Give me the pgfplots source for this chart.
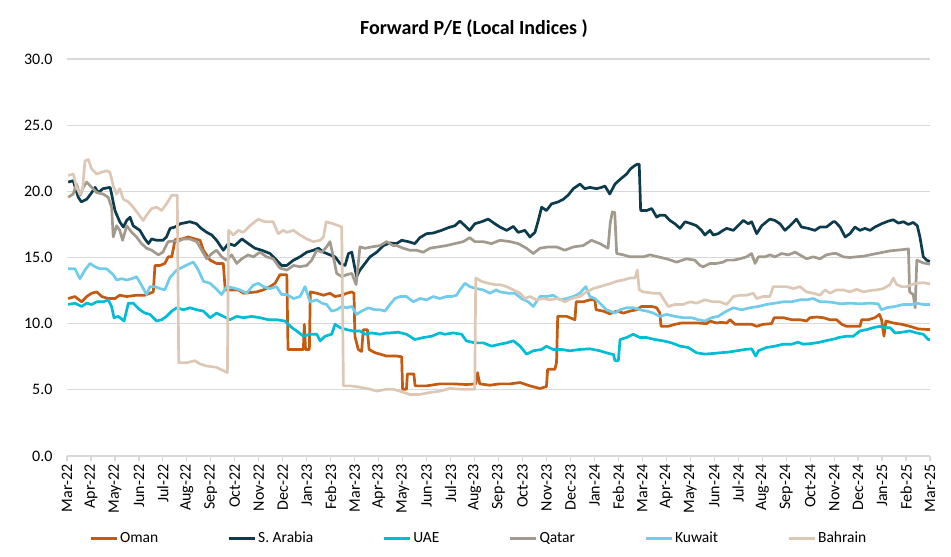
\documentclass[border=0pt]{standalone}
\usepackage{pgfplots}
\pgfplotsset{compat=1.18}
\usepackage{fontspec}
\setmainfont{Carlito}
\definecolor{cOman}{HTML}{C55A11}
\definecolor{cKSA}{HTML}{0B3B4C}
\definecolor{cUAE}{HTML}{00BCD4}
\definecolor{cQatar}{HTML}{A39A8E}
\definecolor{cKuwait}{HTML}{70CCEA}
\definecolor{cBahrain}{HTML}{DDC8B6}
\definecolor{cGrid}{HTML}{D9D9D9}
\begin{document}
\begin{tikzpicture}[x=1pt,y=1pt]
\path[use as bounding box] (0,0) rectangle (951,557);
\node[font=\bfseries\fontsize{20}{23}\selectfont] at (474pt,528pt) {Forward P/E (Local Indices )};
\begin{axis}[
  at={(67pt,101pt)}, anchor=south west,
  scale only axis, width=863pt, height=397pt,
  xmin=0, xmax=36, ymin=0, ymax=30,
  ytick={0,5,...,30},
  xtick={0,...,36},
  xticklabels={Mar-22,Apr-22,May-22,Jun-22,Jul-22,Aug-22,Sep-22,Oct-22,Nov-22,Dec-22,Jan-23,Feb-23,Mar-23,Apr-23,May-23,Jun-23,Jul-23,Aug-23,Sep-23,Oct-23,Nov-23,Dec-23,Jan-24,Feb-24,Mar-24,Apr-24,May-24,Jun-24,Jul-24,Aug-24,Sep-24,Oct-24,Nov-24,Dec-24,Jan-25,Feb-25,Mar-25},
  xticklabel style={rotate=90, anchor=east, font=\fontsize{16}{18}\selectfont},
  yticklabel style={font=\fontsize{16}{18}\selectfont, xshift=-11pt},
  /pgf/number format/assume math mode=true,
  yticklabel={\pgfmathprintnumber[fixed,fixed zerofill,precision=1]{\tick}},
  axis x line*=bottom, axis y line*=left,
  x axis line style={draw=cGrid, line width=1.2pt},
  y axis line style={draw=none},
  xtick align=outside, major tick length=5pt,
  xtick style={draw=cGrid, line width=1.2pt},
  ytick style={draw=none},
  ymajorgrids, grid style={draw=cGrid, line width=1.2pt},
  every axis plot/.append style={line width=2.7pt, line join=round, mark=none},
  legend columns=6,
  legend style={at={(0.477,-0.207)}, anchor=center, draw=none, fill=none,
    font=\fontsize{15.5}{18}\selectfont,
    /tikz/every even column/.append style={column sep=67pt},
    /tikz/every odd column/.append style={column sep=0pt}},
  legend image code/.code={\draw[#1, line width=3pt] (0pt,0pt) -- (26pt,0pt);},
]
\addplot[cOman] coordinates {(0.05,11.9)(0.33,12.05)(0.61,11.65)(0.82,12.05)(1.03,12.3)(1.24,12.4)(1.45,12.05)(1.72,11.9)(2.0,11.9)(2.2,12.15)(2.49,12.05)(2.9,12.15)(3.25,12.15)(3.46,12.3)(3.6,12.4)(3.67,14.4)(3.88,14.4)(4.08,14.55)(4.22,15.05)(4.37,15.05)(4.51,16.35)(4.79,16.4)(5.06,16.55)(5.34,16.4)(5.55,16.3)(5.69,15.55)(5.97,14.8)(6.24,14.55)(6.52,14.55)(6.6,12.55)(6.87,12.55)(7.15,12.55)(7.36,12.3)(7.63,12.35)(7.91,12.4)(8.19,12.55)(8.47,12.8)(8.68,13.05)(8.88,13.7)(9.17,13.7)(9.22,8.05)(9.51,8.05)(9.86,8.05)(9.9,9.95)(9.95,8.05)(10.11,8.05)(10.15,12.4)(10.42,12.3)(10.7,12.15)(10.97,12.3)(11.18,12.05)(11.46,12.15)(11.67,12.3)(11.88,12.4)(11.97,12.3)(12.01,9.05)(12.15,8.05)(12.29,7.9)(12.36,9.55)(12.53,9.55)(12.6,8.05)(12.85,7.8)(13.06,7.7)(13.33,7.55)(13.75,7.55)(13.96,7.5)(14.0,5.05)(14.16,5.05)(14.2,6.2)(14.47,6.2)(14.52,5.3)(15.0,5.3)(15.55,5.45)(16.11,5.45)(16.66,5.4)(17.05,5.45)(17.12,6.3)(17.22,5.45)(17.64,5.35)(18.05,5.45)(18.48,5.45)(18.9,5.55)(19.31,5.3)(19.73,5.1)(20.0,5.25)(20.05,6.55)(20.35,6.55)(20.42,7.05)(20.47,10.55)(20.84,10.55)(21.19,10.3)(21.24,11.65)(21.53,11.65)(21.81,11.8)(22.02,11.8)(22.07,11.05)(22.37,10.95)(22.64,10.75)(22.93,10.95)(23.21,10.8)(23.48,10.95)(23.76,11.05)(23.97,11.3)(24.18,11.3)(24.39,11.3)(24.6,11.2)(24.73,10.8)(24.78,9.8)(25.08,9.8)(25.36,9.95)(25.64,10.05)(25.98,10.05)(26.33,10.05)(26.68,10.0)(26.82,10.2)(27.09,10.05)(27.3,10.1)(27.52,10.05)(27.66,10.3)(27.87,9.95)(28.21,9.95)(28.56,9.95)(28.77,9.8)(29.04,9.95)(29.39,10.0)(29.5,10.45)(29.88,10.45)(30.23,10.3)(30.57,10.3)(30.85,10.2)(30.99,10.45)(31.27,10.5)(31.55,10.45)(31.82,10.3)(32.1,10.3)(32.32,9.95)(32.52,9.8)(32.8,9.8)(33.08,9.8)(33.15,10.3)(33.43,10.3)(33.7,10.45)(33.89,10.7)(33.98,10.3)(34.08,9.05)(34.16,10.2)(34.47,10.05)(34.82,9.95)(35.16,9.8)(35.51,9.6)(36.0,9.55)};
\addlegendentry{Oman}
\addplot[cKSA] coordinates {(0.05,20.7)(0.26,20.8)(0.47,19.55)(0.6,19.2)(0.82,19.4)(1.03,19.9)(1.17,20.3)(1.3,19.9)(1.5,20.2)(1.8,20.3)(1.86,19.8)(2.0,18.55)(2.2,17.7)(2.35,17.3)(2.49,17.8)(2.63,18.05)(2.76,17.4)(3.04,17.05)(3.25,16.4)(3.4,16.05)(3.53,16.4)(3.74,16.3)(4.0,16.3)(4.15,16.55)(4.3,17.2)(4.5,17.3)(4.72,17.55)(5.13,17.7)(5.4,17.55)(5.6,17.2)(5.83,16.9)(6.04,16.7)(6.24,16.3)(6.52,15.55)(6.73,16.05)(7.0,15.9)(7.3,16.4)(7.56,16.05)(7.84,15.7)(8.12,15.55)(8.47,15.3)(8.74,14.8)(8.95,14.4)(9.17,14.4)(9.45,14.8)(9.72,15.05)(10.0,15.4)(10.28,15.55)(10.49,15.7)(10.7,15.4)(10.97,15.2)(11.18,15.05)(11.39,14.55)(11.6,14.4)(11.74,15.3)(11.88,15.4)(11.97,14.55)(12.08,13.55)(12.22,14.05)(12.43,14.55)(12.64,15.05)(12.92,15.4)(13.2,15.9)(13.47,16.1)(13.75,16.05)(13.96,16.3)(14.23,16.2)(14.51,16.05)(14.72,16.5)(15.0,16.8)(15.28,16.85)(15.62,17.05)(15.9,17.25)(16.18,17.4)(16.39,17.75)(16.6,17.4)(16.8,17.05)(17.01,17.55)(17.29,17.7)(17.57,17.9)(17.85,17.55)(18.06,17.3)(18.34,17.05)(18.62,17.35)(18.82,16.9)(19.1,17.05)(19.31,16.55)(19.52,16.9)(19.66,17.8)(19.8,18.8)(20.0,18.55)(20.21,19.05)(20.49,19.2)(20.7,19.4)(20.9,19.7)(21.12,20.2)(21.4,20.55)(21.6,20.2)(21.81,20.3)(22.09,20.2)(22.3,20.3)(22.44,20.4)(22.64,19.8)(22.86,20.55)(23.07,20.9)(23.34,21.3)(23.51,21.7)(23.65,21.9)(23.79,22.05)(23.87,22.05)(23.93,18.55)(24.18,18.55)(24.39,18.7)(24.6,18.05)(24.73,18.2)(24.94,18.2)(25.15,17.8)(25.36,17.55)(25.57,17.2)(25.78,17.7)(26.05,17.55)(26.26,17.4)(26.47,17.05)(26.61,16.7)(26.82,17.05)(26.96,16.7)(27.16,16.8)(27.37,17.05)(27.52,17.2)(27.8,17.05)(28.07,17.55)(28.21,17.8)(28.42,17.55)(28.56,17.7)(28.77,16.8)(28.98,17.4)(29.18,17.7)(29.32,17.9)(29.53,17.8)(29.74,17.55)(29.95,17.05)(30.16,17.4)(30.43,17.9)(30.64,17.3)(30.92,17.2)(31.2,17.05)(31.41,17.3)(31.68,17.3)(31.96,17.7)(32.04,17.7)(32.25,17.3)(32.46,16.55)(32.66,16.8)(32.87,17.3)(33.08,17.05)(33.29,17.2)(33.5,17.05)(33.7,17.3)(33.98,17.55)(34.26,17.75)(34.47,17.85)(34.68,17.6)(34.89,17.7)(35.1,17.5)(35.3,17.65)(35.47,17.4)(35.58,16.55)(35.72,15.05)(35.86,14.8)(36.0,14.7)};
\addlegendentry{S. Arabia}
\addplot[cUAE] coordinates {(0.05,11.45)(0.33,11.55)(0.61,11.3)(0.82,11.55)(1.03,11.45)(1.24,11.65)(1.52,11.65)(1.72,11.8)(1.86,11.3)(1.96,10.45)(2.14,10.55)(2.38,10.2)(2.56,11.55)(2.76,11.55)(3.04,11.05)(3.25,10.8)(3.46,10.7)(3.74,10.2)(3.95,10.3)(4.15,10.55)(4.37,10.95)(4.58,11.2)(4.86,11.05)(5.13,11.2)(5.41,11.05)(5.69,10.95)(5.97,10.45)(6.24,10.8)(6.52,10.55)(6.8,10.3)(7.08,10.55)(7.36,10.45)(7.7,10.55)(8.05,10.45)(8.4,10.3)(8.74,10.3)(9.09,10.2)(9.38,9.7)(9.58,9.45)(9.86,9.05)(10.14,9.2)(10.42,9.2)(10.56,8.7)(10.76,9.05)(11.04,9.2)(11.18,9.95)(11.39,9.7)(11.67,9.55)(11.94,9.45)(12.22,9.45)(12.43,9.2)(12.71,9.3)(13.06,9.2)(13.33,9.3)(13.47,9.3)(13.82,9.35)(14.16,9.2)(14.51,8.8)(14.86,8.95)(15.21,9.05)(15.55,9.3)(15.76,9.2)(16.11,9.3)(16.46,9.2)(16.66,8.7)(17.01,8.55)(17.36,8.55)(17.71,8.3)(18.06,8.45)(18.34,8.55)(18.62,8.7)(18.9,8.3)(19.17,7.7)(19.45,7.95)(19.8,8.05)(20.0,8.3)(20.28,8.05)(20.63,8.05)(20.98,7.95)(21.39,8.05)(21.81,8.1)(22.23,7.95)(22.5,7.8)(22.71,7.7)(22.79,7.7)(22.86,7.2)(23.0,7.2)(23.07,8.8)(23.34,8.95)(23.62,9.2)(23.9,8.95)(24.18,8.95)(24.53,8.8)(24.87,8.7)(25.22,8.55)(25.57,8.3)(25.91,8.2)(26.26,7.8)(26.61,7.7)(26.96,7.75)(27.24,7.8)(27.59,7.85)(27.94,7.95)(28.28,8.05)(28.56,8.1)(28.73,7.55)(28.84,7.95)(29.18,8.2)(29.53,8.3)(29.88,8.45)(30.23,8.45)(30.5,8.6)(30.71,8.45)(31.06,8.5)(31.41,8.6)(31.75,8.75)(32.03,8.85)(32.18,8.95)(32.52,9.05)(32.8,9.05)(33.08,9.45)(33.36,9.55)(33.64,9.7)(33.91,9.8)(34.12,9.7)(34.33,9.7)(34.54,9.3)(34.82,9.35)(35.16,9.45)(35.44,9.3)(35.72,9.2)(35.93,8.8)(36.0,8.8)};
\addlegendentry{UAE}
\addplot[cQatar] coordinates {(0.05,19.55)(0.26,19.8)(0.4,20.55)(0.54,19.7)(0.68,20.3)(0.82,20.7)(1.03,20.3)(1.24,19.9)(1.5,19.8)(1.72,19.55)(1.86,18.8)(1.93,16.55)(2.07,17.4)(2.2,17.05)(2.32,16.3)(2.49,17.4)(2.7,16.9)(2.9,16.55)(3.11,16.05)(3.32,15.7)(3.53,15.55)(3.81,15.2)(4.0,15.4)(4.22,16.2)(4.5,16.25)(4.58,16.2)(4.86,16.4)(5.13,16.4)(5.41,16.2)(5.62,15.55)(5.83,14.9)(6.04,15.3)(6.24,15.55)(6.45,15.05)(6.66,14.8)(6.87,15.2)(7.08,14.55)(7.29,14.9)(7.56,15.2)(7.77,15.05)(8.05,15.4)(8.33,15.05)(8.6,14.9)(8.88,14.2)(9.17,14.05)(9.45,14.4)(9.72,14.3)(10.0,14.4)(10.21,14.8)(10.42,15.55)(10.63,15.4)(10.83,15.8)(10.97,16.2)(11.11,15.05)(11.25,13.8)(11.46,13.55)(11.67,13.7)(11.88,13.8)(12.06,12.95)(12.15,14.55)(12.22,15.8)(12.43,15.7)(12.71,15.8)(13.06,15.9)(13.33,16.2)(13.61,15.9)(13.75,15.9)(14.03,15.7)(14.3,15.55)(14.58,15.55)(14.86,15.4)(15.14,15.7)(15.48,15.8)(15.83,15.9)(16.18,16.05)(16.53,16.2)(16.8,16.5)(17.01,16.2)(17.36,16.2)(17.71,16.05)(18.06,16.3)(18.48,16.2)(18.82,16.05)(19.17,15.7)(19.45,15.3)(19.73,15.7)(20.07,15.8)(20.42,15.8)(20.77,15.55)(21.12,15.8)(21.53,15.9)(21.88,16.3)(22.23,16.05)(22.57,15.7)(22.66,17.6)(22.75,18.45)(22.85,18.4)(22.93,15.3)(23.21,15.2)(23.48,15.05)(23.76,15.05)(24.04,15.05)(24.32,15.2)(24.66,15.05)(25.01,14.9)(25.43,14.65)(25.84,14.9)(26.19,14.8)(26.4,14.4)(26.54,14.3)(26.82,14.55)(27.09,14.55)(27.37,14.65)(27.52,14.8)(27.8,14.8)(28.07,14.9)(28.35,15.05)(28.56,15.3)(28.7,14.55)(28.84,15.05)(29.12,15.05)(29.32,15.2)(29.53,15.05)(29.81,15.3)(30.09,15.2)(30.37,15.4)(30.57,15.2)(30.85,14.9)(31.13,15.05)(31.41,14.9)(31.68,15.2)(31.96,15.3)(32.1,15.3)(32.38,15.05)(32.66,15.0)(32.94,15.05)(33.22,15.1)(33.5,15.2)(33.77,15.3)(34.05,15.4)(34.33,15.5)(34.61,15.55)(34.89,15.6)(35.1,15.65)(35.15,12.4)(35.3,12.2)(35.38,11.2)(35.45,14.8)(35.7,14.6)(36.0,14.5)};
\addlegendentry{Qatar}
\addplot[cKuwait] coordinates {(0.05,14.15)(0.33,14.15)(0.54,13.4)(0.75,14.05)(0.96,14.55)(1.17,14.3)(1.38,14.15)(1.65,14.15)(1.93,13.7)(2.07,13.3)(2.28,13.4)(2.49,13.3)(2.7,13.4)(2.9,13.55)(3.11,12.9)(3.32,12.2)(3.46,12.8)(3.67,12.8)(3.88,12.65)(4.08,12.55)(4.3,13.5)(4.58,14.05)(4.86,14.3)(5.13,14.55)(5.27,14.65)(5.48,14.05)(5.69,13.2)(5.97,13.05)(6.18,12.7)(6.45,12.2)(6.66,12.8)(6.94,12.7)(7.22,12.55)(7.49,12.3)(7.77,12.9)(7.98,13.05)(8.19,12.8)(8.47,12.65)(8.74,12.8)(8.95,12.2)(9.17,12.2)(9.45,11.9)(9.72,12.05)(9.93,12.8)(10.14,11.65)(10.42,11.8)(10.63,11.55)(10.83,11.45)(11.04,10.95)(11.25,11.05)(11.46,11.3)(11.67,11.2)(11.88,11.3)(12.08,10.7)(12.29,10.95)(12.57,11.2)(12.85,11.05)(13.06,11.05)(13.26,10.95)(13.47,11.45)(13.68,11.9)(13.89,12.05)(14.16,12.05)(14.44,11.65)(14.72,11.9)(15.0,11.8)(15.28,12.05)(15.55,11.9)(15.83,12.05)(16.04,12.05)(16.25,12.15)(16.39,12.55)(16.6,13.05)(16.8,12.8)(17.08,12.65)(17.36,12.55)(17.64,12.3)(17.91,12.55)(18.06,12.4)(18.41,12.3)(18.68,12.3)(18.96,11.9)(19.24,11.65)(19.45,11.3)(19.73,12.05)(20.0,12.05)(20.28,12.15)(20.56,11.8)(20.84,11.9)(21.12,12.05)(21.39,12.3)(21.64,12.8)(21.81,12.05)(22.02,11.9)(22.23,11.55)(22.5,11.05)(22.65,10.95)(22.86,10.8)(23.07,11.05)(23.34,11.2)(23.62,11.2)(23.9,11.05)(24.18,10.95)(24.46,10.8)(24.73,10.55)(25.01,10.7)(25.36,10.55)(25.7,10.45)(26.05,10.45)(26.33,10.3)(26.61,10.2)(26.89,10.45)(27.16,10.55)(27.37,10.8)(27.52,10.95)(27.8,11.2)(28.14,11.05)(28.49,11.2)(28.84,11.3)(29.18,11.45)(29.53,11.55)(29.88,11.65)(30.23,11.65)(30.57,11.8)(30.85,11.8)(31.13,11.9)(31.41,11.65)(31.68,11.65)(31.96,11.6)(32.25,11.5)(32.66,11.55)(33.08,11.5)(33.5,11.55)(33.84,11.5)(33.98,11.05)(34.19,11.2)(34.54,11.3)(34.89,11.45)(35.23,11.45)(35.44,11.55)(35.72,11.45)(36.0,11.45)};
\addlegendentry{Kuwait}
\addplot[cBahrain] coordinates {(0.05,21.2)(0.26,21.3)(0.4,20.3)(0.54,19.8)(0.65,20.2)(0.75,22.3)(0.89,22.4)(1.03,21.7)(1.24,21.3)(1.45,21.45)(1.65,21.55)(1.79,21.45)(1.93,20.4)(2.07,19.8)(2.2,20.2)(2.35,19.4)(2.56,19.2)(2.76,18.8)(2.97,18.3)(3.18,17.8)(3.32,18.2)(3.53,18.7)(3.74,18.8)(3.95,18.55)(4.15,19.05)(4.37,19.7)(4.6,19.7)(4.66,7.05)(4.99,7.05)(5.34,7.2)(5.55,6.95)(5.83,6.8)(6.24,6.7)(6.52,6.45)(6.69,6.3)(6.74,17.05)(6.94,16.7)(7.15,17.05)(7.36,16.9)(7.63,17.4)(7.98,17.9)(8.26,17.7)(8.6,17.7)(8.81,16.8)(9.02,17.05)(9.17,16.9)(9.45,17.05)(9.72,16.7)(10.0,16.4)(10.28,16.2)(10.56,16.3)(10.7,16.55)(10.81,17.7)(11.11,17.55)(11.46,17.3)(11.53,5.3)(11.81,5.3)(12.22,5.2)(12.64,5.05)(12.92,4.9)(13.33,5.05)(13.6,5.05)(13.89,4.9)(14.3,4.65)(14.72,4.65)(15.14,4.8)(15.55,4.9)(15.97,5.1)(16.39,5.05)(17.01,5.05)(17.05,13.45)(17.29,13.2)(17.57,13.05)(17.85,12.95)(18.06,12.95)(18.34,12.8)(18.62,12.55)(18.9,12.3)(19.1,11.9)(19.31,12.05)(19.59,11.8)(19.87,11.9)(20.14,11.8)(20.49,11.9)(20.77,11.65)(21.05,11.9)(21.39,12.05)(21.67,12.4)(21.95,12.65)(22.23,12.8)(22.5,12.95)(22.71,13.05)(22.93,13.2)(23.21,13.3)(23.48,13.45)(23.69,13.45)(23.79,14.05)(23.87,12.55)(24.04,12.4)(24.46,12.3)(24.73,12.3)(24.87,11.9)(25.08,11.3)(25.36,11.45)(25.7,11.45)(25.98,11.65)(26.26,11.55)(26.61,11.8)(26.96,11.65)(27.24,11.65)(27.52,11.45)(27.8,12.05)(28.07,12.15)(28.35,12.15)(28.63,12.3)(28.77,11.9)(29.04,12.05)(29.32,12.05)(29.46,12.8)(29.74,12.8)(30.02,12.8)(30.3,12.65)(30.57,12.8)(30.85,12.4)(31.13,12.3)(31.41,12.15)(31.62,12.55)(31.83,12.3)(32.1,12.55)(32.38,12.55)(32.66,12.4)(32.94,12.6)(33.22,12.4)(33.5,12.5)(33.77,12.55)(34.05,12.65)(34.33,12.95)(34.47,13.45)(34.61,12.95)(34.82,12.8)(35.03,12.8)(35.23,12.95)(35.44,13.05)(35.72,13.1)(36.0,13.0)};
\addlegendentry{Bahrain}
\end{axis}
\end{tikzpicture}
\end{document}
